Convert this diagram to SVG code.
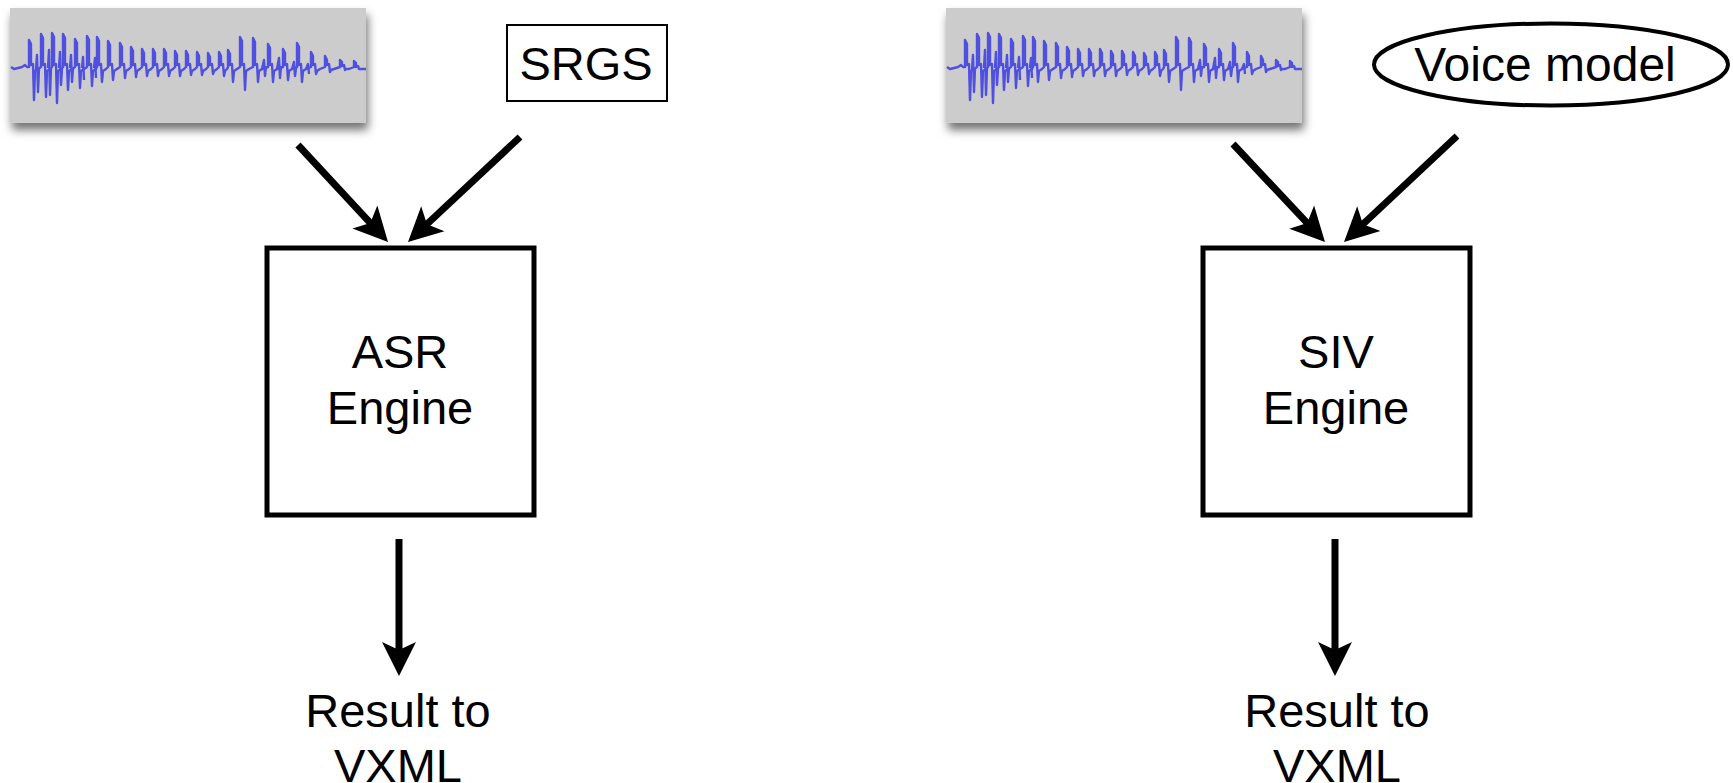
<svg xmlns="http://www.w3.org/2000/svg" xmlns:xlink="http://www.w3.org/1999/xlink" width="1733" height="783" viewBox="0 0 1733 783">
  <style>
    .label { font-family: "Liberation Sans", Arial, Helvetica, sans-serif; fill: #000; text-anchor: middle; }
    .engine { fill: #fff; stroke: #000; stroke-width: 5; }
    .arrow { stroke: #000; stroke-width: 7; fill: none; marker-end: url(#head); }
    .panel { fill: #cccccc; filter: url(#shadow); }
    .wave { fill: none; stroke: #4f4fe0; stroke-width: 2.4; stroke-linejoin: round; }
  </style>
  <defs>
    <filter id="shadow" x="-10%" y="-20%" width="125%" height="160%">
      <feDropShadow dx="2" dy="7" stdDeviation="5" flood-color="#000" flood-opacity="0.55"/>
    </filter>
    <marker id="head" markerUnits="userSpaceOnUse" viewBox="-20 -20 40 40" markerWidth="40" markerHeight="40" refX="0" refY="0" orient="auto">
      <path d="M20,0 L-14,-17 L-6,0 L-14,17 Z" fill="#000"/>
    </marker>
    <!-- audio sample: grey panel with waveform -->
    <g id="audio">
      <rect class="panel" x="10" y="8" width="356" height="115"/>
      <path class="wave" d="M11,67 L14,69 L18,68 L22,67 L25,65 L27,67
        L29,67 L29,40 L31,44 L31,65 L33,64 L34,100 L35,71 L38,69
        L41,67 L41,34 L43,38 L43,65 L45,64 L46,97 L47,71 L50,69
        L52,67 L52,33 L54,37 L54,65 L56,64 L57,103 L58,71 L61,69
        L63,67 L63,34 L65,38 L65,65 L67,64 L68,90 L69,71 L72,69
        L75,67 L75,39 L77,43 L77,65 L79,64 L80,88 L81,71 L84,69
        L87,67 L87,36 L89,40 L89,65 L91,64 L92,86 L93,71 L96,69
        L97,67 L97,37 L99,41 L99,65 L101,64 L102,82 L103,71 L106,69
        L108,67 L108,41 L110,45 L110,65 L112,64 L113,80 L114,71 L117,69
        L120,67 L120,43 L122,47 L122,65 L124,64 L125,78 L126,71 L129,69
        L131,67 L131,47 L133,51 L133,65 L135,64 L136,77 L137,71 L140,69
        L142,67 L142,49 L144,53 L144,65 L146,64 L147,76 L148,71 L151,69
        L153,67 L153,49 L155,53 L155,65 L157,64 L158,76 L159,71 L162,69
        L164,67 L164,49 L166,53 L166,65 L168,64 L169,76 L170,71 L173,69
        L175,67 L175,51 L177,55 L177,65 L179,64 L180,76 L181,71 L184,69
        L186,67 L186,51 L188,55 L188,65 L190,64 L191,75 L192,71 L195,69
        L197,67 L197,52 L199,56 L199,65 L201,64 L202,75 L203,71 L206,69
        L208,67 L208,53 L210,57 L210,65 L212,64 L213,74 L214,71 L217,69
        L219,67 L219,52 L221,56 L221,65 L223,64 L224,76 L225,71 L227,69
        L228,67 L228,50 L230,54 L230,65 L232,64 L233,82 L234,71 L237,69
        L240,67 L240,37 L242,41 L242,65 L244,64 L245,90 L246,71 L249,69
        L253,67 L253,38 L255,42 L255,65 L257,64 L258,82 L259,71 L262,69
        L268,67 L268,44 L270,48 L270,65 L272,64 L273,82 L274,71 L277,69
        L283,67 L283,49 L285,53 L285,65 L287,64 L288,80 L289,71 L292,69
        L297,67 L297,43 L299,47 L299,65 L301,64 L302,82 L303,71 L306,69
        L311,67 L311,52 L313,56 L313,65 L315,64 L316,74 L317,71 L320,69
        L325,67 L325,56 L327,60 L327,65 L329,64 L330,72 L331,70 L334,69
        L340,67 L340,60 L342,62 L342,66 L344,65 L345,70 L346,69 L349,69
        L354,67 L354,61 L356,63 L356,67 L358,66 L359,69 L361,69 L366,69"/>
      <!-- secondary detail between the main pulses -->
      <path class="wave" d="M36,70 L37,55 L38,92 L39,68 M48,68 L49,50 L50,95 L51,68 M59,68 L60,52 L61,85 L62,68
        M70,68 L71,55 L72,82 L73,68 M82,68 L83,57 L84,80 M94,68 L95,58 L96,78
        M262,69 L264,60 L265,76 L266,66 M277,69 L279,58 L280,78 L281,66 M292,69 L294,62 L295,76 L296,68 M306,69 L308,64 L309,74"/>
    </g>
  </defs>

  <!-- connectors -->
  <g id="connectors">
    <line class="arrow" x1="298" y1="145" x2="374.4" y2="227.3"/>
    <line class="arrow" x1="520" y1="137" x2="422.6" y2="228.3"/>
    <line class="arrow" x1="399" y1="539" x2="399" y2="656"/>
    <line class="arrow" x1="1233" y1="144" x2="1311.3" y2="227.4"/>
    <line class="arrow" x1="1457" y1="136" x2="1358.6" y2="228.3"/>
    <line class="arrow" x1="1335" y1="539" x2="1335" y2="656"/>
  </g>

  <!-- left: speech recognition -->
  <g id="audio-asr">
    <use xlink:href="#audio" href="#audio"/>
  </g>
  <g id="srgs">
    <rect x="507" y="25" width="160" height="76" fill="#fff" stroke="#000" stroke-width="2"/>
    <text class="label" x="586" y="80" font-size="47">SRGS</text>
  </g>
  <g id="asr-engine">
    <rect class="engine" x="267" y="248" width="267" height="267"/>
    <text class="label" x="400" y="368" font-size="47">ASR</text>
    <text class="label" x="400" y="424" font-size="47">Engine</text>
  </g>
  <g id="asr-result">
    <text class="label" x="398" y="727" font-size="47">Result to</text>
    <text class="label" x="398" y="782" font-size="47">VXML</text>
  </g>

  <!-- right: speaker verification -->
  <g id="audio-siv">
    <use xlink:href="#audio" href="#audio" transform="translate(936,0)"/>
  </g>
  <g id="voice-model">
    <ellipse cx="1551" cy="64.5" rx="177" ry="41" fill="#fff" stroke="#000" stroke-width="4"/>
    <text class="label" x="1545" y="81" font-size="48">Voice model</text>
  </g>
  <g id="siv-engine">
    <rect class="engine" x="1203" y="248" width="267" height="267"/>
    <text class="label" x="1336" y="368" font-size="47">SIV</text>
    <text class="label" x="1336" y="424" font-size="47">Engine</text>
  </g>
  <g id="siv-result">
    <text class="label" x="1337" y="727" font-size="47">Result to</text>
    <text class="label" x="1337" y="782" font-size="47">VXML</text>
  </g>
</svg>
